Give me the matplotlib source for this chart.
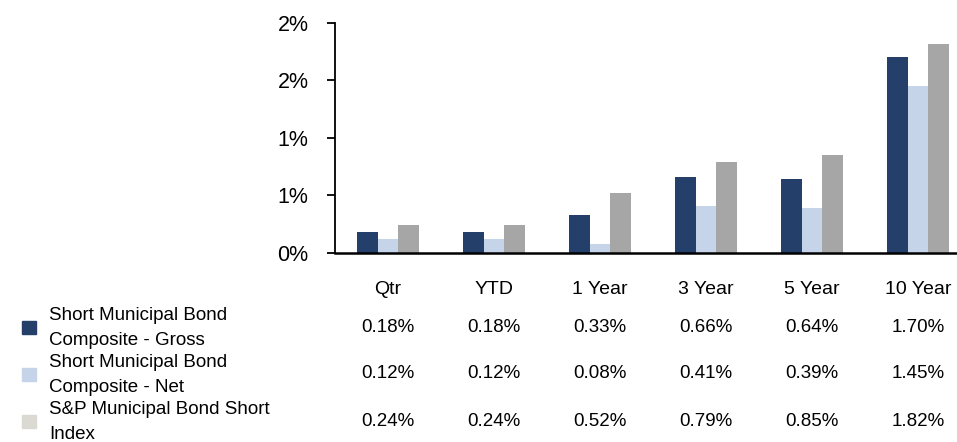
import numpy as np
import matplotlib
matplotlib.use("Agg")
import matplotlib.pyplot as plt
from matplotlib.patches import Rectangle
from matplotlib.ticker import FuncFormatter
import matplotlib.transforms as mtransforms

plt.rcParams['font.family'] = ['Liberation Sans', 'DejaVu Sans']

categories = ['Qtr', 'YTD', '1 Year', '3 Year', '5 Year', '10 Year']
gross = [0.18, 0.18, 0.33, 0.66, 0.64, 1.70]
net = [0.12, 0.12, 0.08, 0.41, 0.39, 1.45]
index = [0.24, 0.24, 0.52, 0.79, 0.85, 1.82]
series_names = ['Short Municipal Bond\nComposite - Gross',
                'Short Municipal Bond\nComposite - Net',
                'S&P Municipal Bond Short\nIndex']
bar_colors = ['#243F6A', '#C6D4EA', '#A6A6A6']
key_colors = ['#243F6A', '#C6D4EA', '#DADAD2']

W, H = 957, 442
fig = plt.figure(figsize=(W / 100, H / 100), dpi=100)
# axes runs a little past the right edge, as in the original
ax = fig.add_axes([335 / W, 1 - 253 / H, 636 / W, 230 / H])

x = np.arange(len(categories))
bw = 0.197
for i, vals in enumerate([gross, net, index]):
    ax.bar(x + (i - 1) * bw, vals, width=bw, color=bar_colors[i])

ax.set_xlim(-0.5, len(categories) - 0.5)
ax.set_ylim(0, 2.0)
ax.set_yticks(np.arange(0, 2.01, 0.5))
ax.yaxis.set_major_formatter(FuncFormatter(lambda v, p: '%d%%' % round(v + 0.001)))
ax.set_xticks(x)
ax.set_xticklabels(categories)
ax.tick_params(axis='x', length=0, pad=20, labelsize=14)
ax.tick_params(axis='y', length=6, width=1.3, labelsize=15.5, pad=13)
for s in ['top', 'right']:
    ax.spines[s].set_visible(False)
ax.spines['left'].set_linewidth(1.3)
ax.spines['bottom'].set_linewidth(1.8)

# data table under the chart
trans = mtransforms.blended_transform_factory(ax.transData, fig.transFigure)
row_y = [327, 374, 421]
for r, vals in enumerate([gross, net, index]):
    yf = 1 - row_y[r] / H
    for xi, v in zip(x, vals):
        ax.text(xi, yf, '%.2f%%' % v, transform=trans, ha='center', va='center',
                fontsize=13.5, clip_on=False)
    fig.text(49 / W, yf - 1 / H, series_names[r], ha='left', va='center',
             fontsize=13.5, linespacing=1.6)
    fig.patches.append(Rectangle((22 / W, yf - 7 / H), 14 / W, 13 / H,
                                 transform=fig.transFigure, color=key_colors[r]))

fig.savefig('out.png', dpi=100)
